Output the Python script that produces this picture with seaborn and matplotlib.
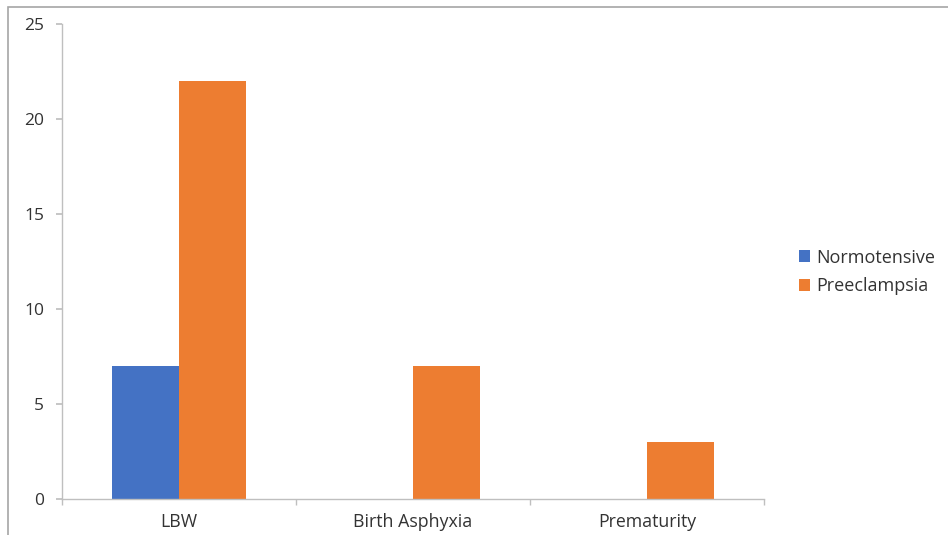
import matplotlib
matplotlib.use("Agg")
import matplotlib.pyplot as plt
import seaborn as sns
import pandas as pd
from matplotlib.patches import Rectangle

categories = ["LBW", "Birth Asphyxia", "Prematurity"]
normotensive = [7, 0, 0]
preeclampsia = [22, 7, 3]
series_names = ["Normotensive", "Preeclampsia"]
y_ticks = [0, 5, 10, 15, 20, 25]

df = pd.DataFrame({
    "category": categories * 2,
    "value": normotensive + preeclampsia,
    "group": [series_names[0]] * 3 + [series_names[1]] * 3,
})

sns.set_theme(style="white")
plt.rcParams["font.family"] = ["Open Sans", "DejaVu Sans"]

text_color = "#333333"
axis_color = "#BFBFBF"

fig = plt.figure(figsize=(9.48, 5.35), dpi=100)
ax = fig.add_axes([62 / 948, 1 - 499 / 535, (764 - 62) / 948, (499 - 24) / 535])

sns.barplot(data=df, x="category", y="value", hue="group",
            palette=["#4472C4", "#ED7D31"], width=0.57, saturation=1,
            ax=ax, order=categories, hue_order=series_names)
for p in ax.patches:
    p.set_edgecolor("none")

ax.set_xlim(-0.5, 2.5)
ax.set_ylim(0, 25)
ax.set_yticks(y_ticks)
ax.set_xlabel("")
ax.set_ylabel("")

for side in ["top", "right"]:
    ax.spines[side].set_visible(False)
for side in ["left", "bottom"]:
    ax.spines[side].set_color(axis_color)
    ax.spines[side].set_linewidth(1.0)

ax.set_xticks(range(len(categories)))
ax.set_xticklabels(categories)
ax.set_xticks([-0.5, 0.5, 1.5, 2.5], minor=True)
ax.tick_params(axis="x", which="major", length=0, pad=10, labelsize=12.8, labelcolor=text_color)
ax.tick_params(axis="x", which="minor", length=4, color=axis_color, direction="out", bottom=True)
ax.tick_params(axis="y", length=4, color=axis_color, direction="out", left=True, pad=9,
               labelsize=12.5, labelcolor=text_color)

handles, labels = ax.get_legend_handles_labels()
ax.legend(handles, labels, loc="center left", bbox_to_anchor=(783 / 948, 1 - 272 / 535),
          bbox_transform=fig.transFigure, frameon=False, fontsize=13,
          handlelength=0.6, handleheight=0.6, handletextpad=0.35, labelspacing=0.6,
          labelcolor=text_color)

# thin frame around the chart area
fig.patches.append(Rectangle((8 / 948, -0.05), 1.1, 1 - 7 / 535 + 0.05,
                             transform=fig.transFigure, fill=False,
                             edgecolor="#A6A6A6", linewidth=1.2))

fig.savefig("out.png", dpi=100)
